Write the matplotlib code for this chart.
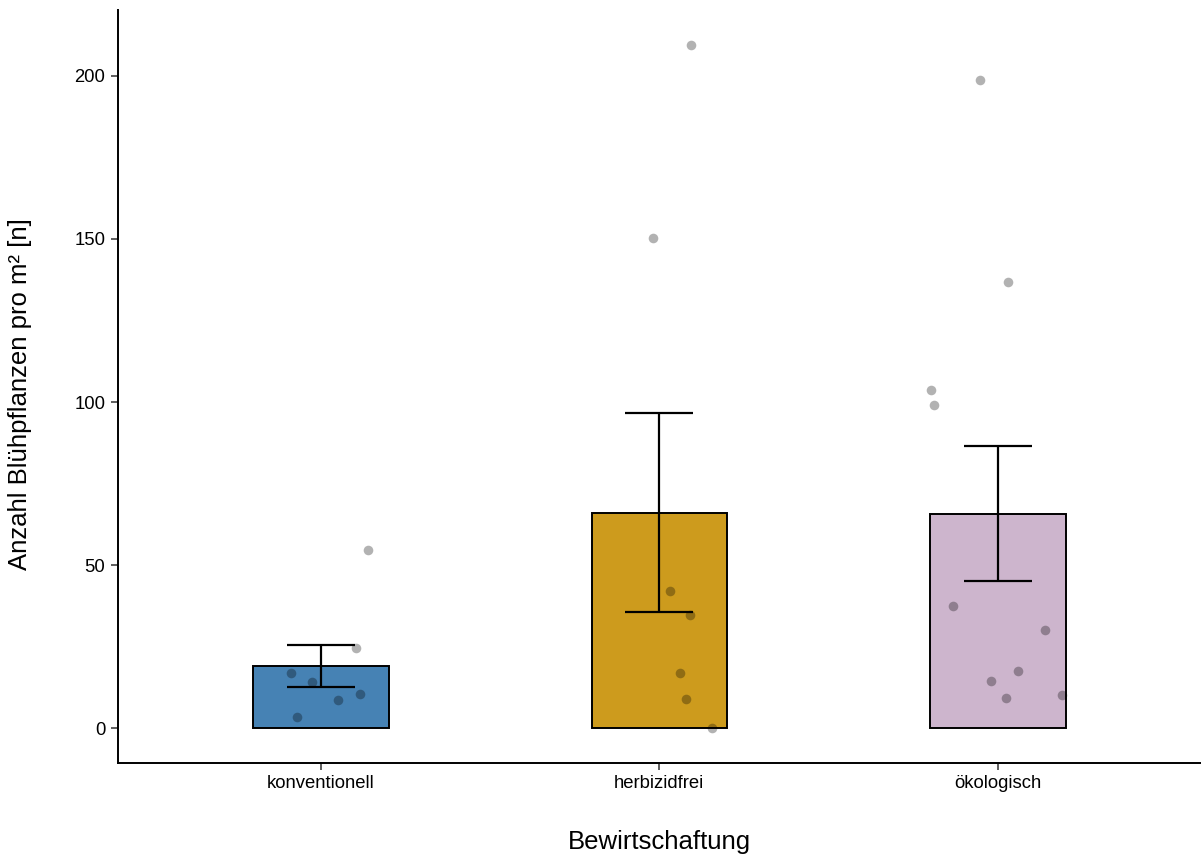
import matplotlib.pyplot as plt
import numpy as np

plt.rcParams["font.family"] = ["Liberation Sans", "DejaVu Sans"]

# Bewirtschaftungsformen und Blühpflanzen pro m² je Aufnahmefläche
categories = ["konventionell", "herbizidfrei", "ökologisch"]
bar_colors = ["#4682B4", "#CD9B1D", "#CDB5CD"]

konventionell = [54.7, 24.6, 17.1, 14.3, 10.7, 8.7, 3.4]
herbizidfrei = [209.5, 150.1, 42.2, 34.8, 17.1, 9.0, 0.1]
oekologisch = [198.5, 136.9, 103.8, 99.0, 37.5, 30.1, 17.7, 14.6, 9.3, 10.3]

# horizontale Streuung der Einzelwerte (jitter)
jitter_konv = [0.139, 0.104, -0.087, -0.027, 0.117, 0.051, -0.069]
jitter_herb = [0.094, -0.018, 0.030, 0.092, 0.060, 0.079, 0.156]
jitter_oeko = [-0.053, 0.029, -0.197, -0.189, -0.133, 0.138, 0.058, -0.020, 0.025, 0.189]

groups = [konventionell, herbizidfrei, oekologisch]
jitters = [jitter_konv, jitter_herb, jitter_oeko]

means = np.array([np.mean(g) for g in groups])
ses = np.array([np.std(g, ddof=1) / np.sqrt(len(g)) for g in groups])
x = np.arange(1, len(categories) + 1)

fig = plt.figure(figsize=(12.01, 8.58), dpi=100)
ax = fig.add_axes([0.098, 0.111, 0.902, 0.877])

ax.bar(x, means, width=0.4, color=bar_colors, edgecolor="black", linewidth=1.4, zorder=2)

# Mittelwert ± Standardfehler
ax.vlines(x, means - ses, means + ses, color="black", linewidth=1.6, zorder=3)
for xi, lo, hi in zip(x, means - ses, means + ses):
    ax.hlines([lo, hi], xi - 0.1, xi + 0.1, color="black", linewidth=1.6, zorder=3)

for xi, vals, jit in zip(x, groups, jitters):
    ax.scatter(xi + np.array(jit), vals, s=48, color="black", alpha=0.3,
               linewidths=0, zorder=4)

ax.set_xlim(0.4, 3.6)
ax.set_ylim(-10.5, 220)
ax.set_xticks(x)
ax.set_xticklabels(categories)
ax.set_yticks([0, 50, 100, 150, 200])

for side in ["top", "right"]:
    ax.spines[side].set_visible(False)
for side in ["left", "bottom"]:
    ax.spines[side].set_linewidth(1.4)

ax.tick_params(axis="both", length=5, width=1.1, color="#333333",
               labelsize=13.3, labelcolor="black", pad=4)

ax.set_xlabel("Bewirtschaftung", fontsize=18.5)
ax.set_ylabel("Anzahl Blühpflanzen pro m² [n]", fontsize=18.5)
ax.xaxis.set_label_coords(0.5, -0.089)
ax.yaxis.set_label_coords(-0.079, 0.49)

fig.savefig("out.png", dpi=100)
